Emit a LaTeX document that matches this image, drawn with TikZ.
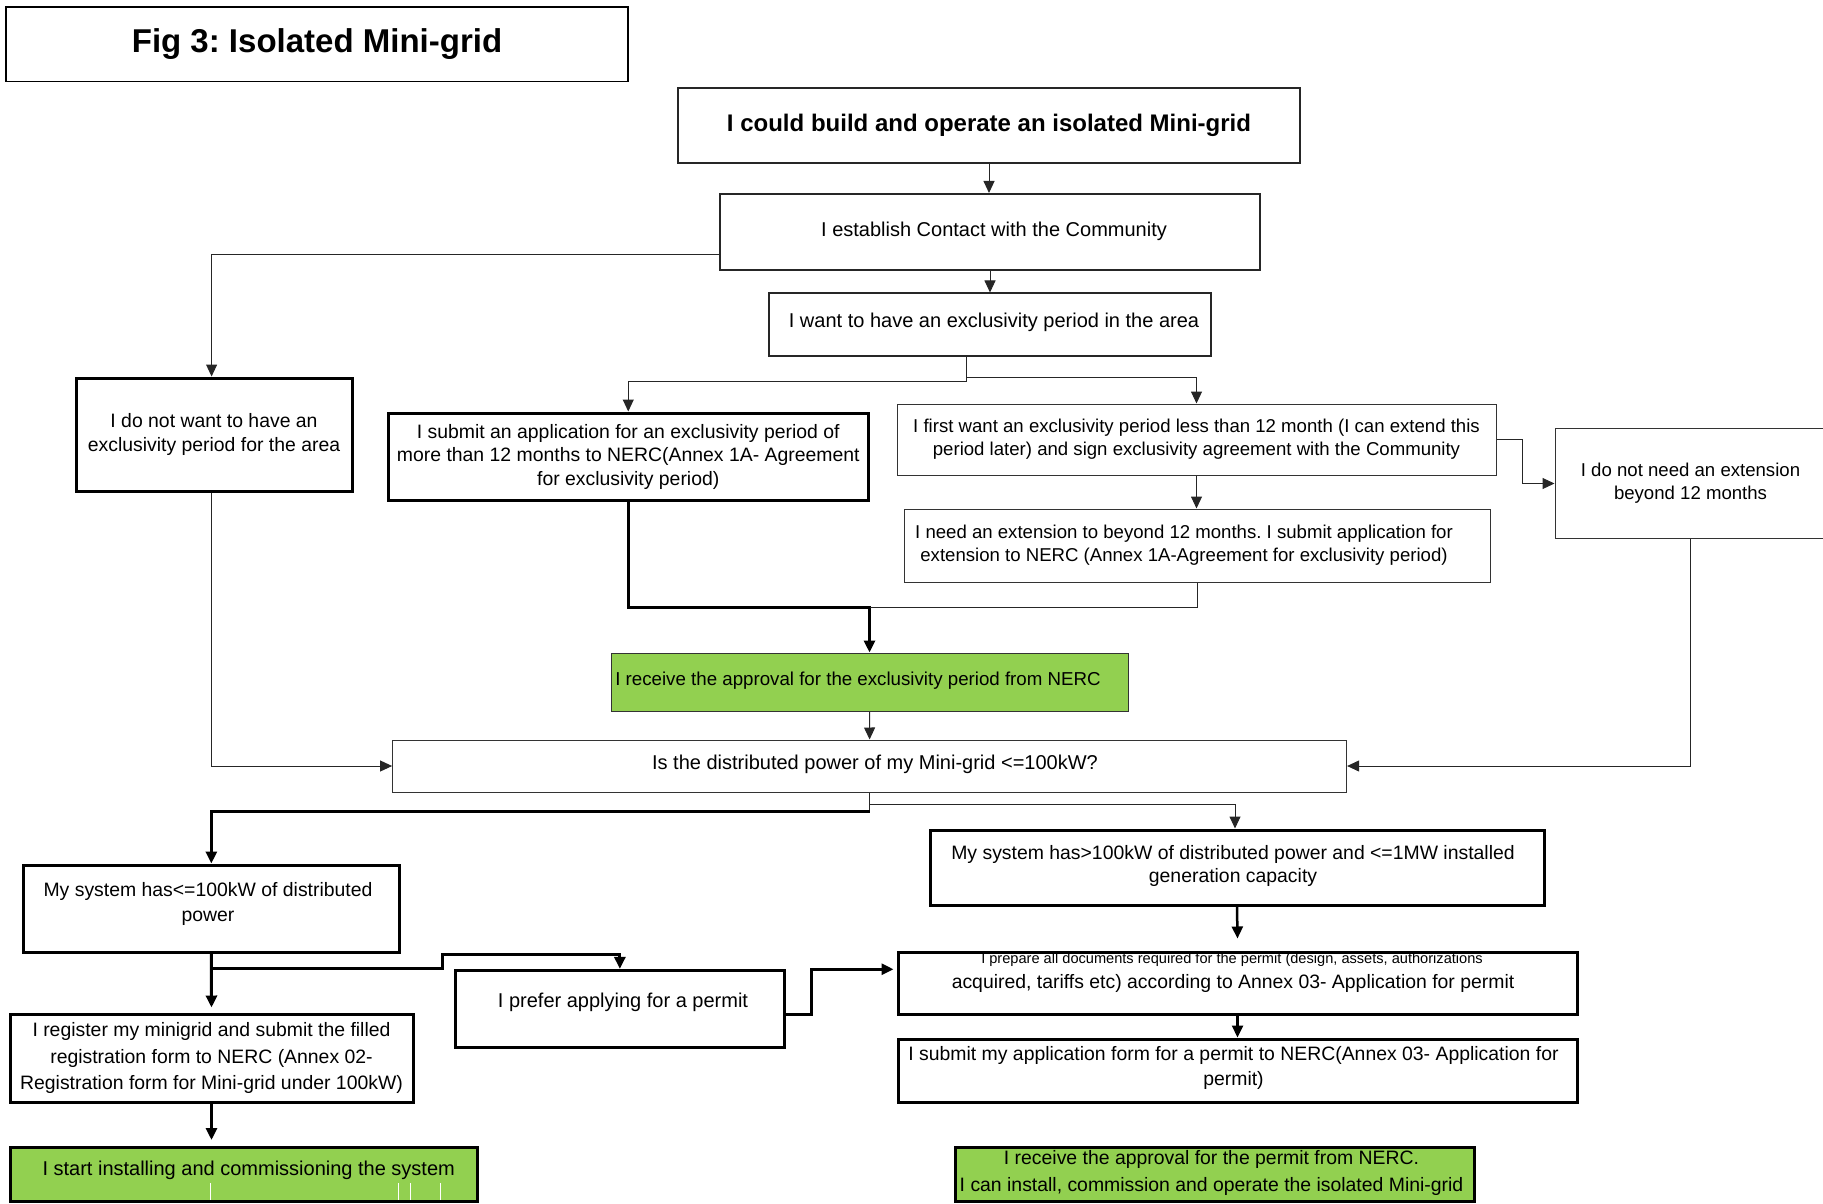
\documentclass[tikz,border=0pt]{standalone}
\usepackage{fontspec}
\setmainfont{Liberation Sans}
\usetikzlibrary{arrows.meta}
\definecolor{grn}{RGB}{146,208,80}
\begin{document}
\frenchspacing
\begin{tikzpicture}[x=0.5pt,y=-0.5pt,
  wh/.style 2 args={minimum width={#1*0.5pt},minimum height={#2*0.5pt}},
  box/.style={draw, rectangle, inner sep=0pt, align=center, font=\fontsize{9.7}{12}\selectfont},
  thickbox/.style={box, line width=1.5pt},
  thinbox/.style={box, line width=0.5pt, draw=black!80},
  midbox/.style={box, line width=1pt, draw=black!85},
  txt/.style={inner sep=0pt, align=center, font=\fontsize{9.7}{12}\selectfont},
  conn/.style={line width=0.5pt, draw=black!85},
  tconn/.style={line width=1.5pt},
  arr/.style={-{Triangle[length=6pt,width=5.5pt]}},
]
\useasboundingbox (0,0) rectangle (1823,1203);

% title
\node[box, line width=0.8pt, wh={622}{74.5}, font=\fontsize{16.5}{20}\selectfont\bfseries] (title) at (317,44.25) {Fig 3: Isolated Mini-grid};

% top chain
\node[midbox, wh={622}{75}, font=\fontsize{12}{14}\selectfont\bfseries] (top) at (989,125.5) {I could build and operate an isolated Mini-grid};
\node[midbox, wh={540}{76}] (establish) at (990,232) {};
\node[txt, font=\fontsize{10}{12}\selectfont] (establishT) at (994,231) {I establish Contact with the Community};
\node[midbox, wh={442}{62.5}] (want) at (990,324.75) {};
\node[txt, font=\fontsize{10}{12}\selectfont] (wantT) at (994,322.6) {I want to have an exclusivity period in the area};

% second row
\node[thickbox, wh={276}{113}] (donot) at (214,434.5) {I do not want to have an\\exclusivity period for the area};
\node[thickbox, wh={480.5}{87.5}, font=\fontsize{9.7}{11.7}\selectfont] (submitExcl) at (628.25,456.75) {I submit an application for an exclusivity period of\\more than 12 months to NERC(Annex 1A- Agreement\\for exclusivity period)};
\node[thinbox, wh={599}{71}, font=\fontsize{9.3}{11.5}\selectfont] (first) at (1196.5,439.5) {I first want an exclusivity period less than 12 month (I can extend this\\period later) and sign exclusivity agreement with the Community};
\node[thinbox, wh={271}{110}, font=\fontsize{9.3}{11.5}\selectfont] (noext) at (1690.5,483.5) {I do not need an extension\\beyond 12 months};
\node[thinbox, wh={586}{73.5}] (needext) at (1197,545.75) {};
\node[txt, font=\fontsize{9.3}{11.5}\selectfont] (needextT) at (1184,545) {I need an extension to beyond 12 months. I submit application for\\extension to NERC (Annex 1A-Agreement for exclusivity period)};

% approval and question
\node[thinbox, fill=grn, wh={517}{58.5}] (green1) at (869.5,682.25) {};
\node[txt, font=\fontsize{9.35}{12}\selectfont] (green1T) at (858,681) {I receive the approval for the exclusivity period from NERC};
\node[thinbox, wh={954}{52}] (question) at (869.6,766) {};
\node[txt, font=\fontsize{10}{12}\selectfont] (questionT) at (875,764.6) {Is the distributed power of my Mini-grid <=100kW?};

% lower left
\node[thickbox, wh={376.7}{87.7}] (le100) at (211.35,908.85) {};
\node[txt, font=\fontsize{9.7}{12.5}\selectfont] (le100T) at (208,903.5) {My system has<=100kW of distributed\\power};
\node[thickbox, wh={403}{88}, font=\fontsize{9.7}{13.2}\selectfont] (register) at (211.5,1058) {I register my minigrid and submit the filled\\registration form to NERC (Annex 02-\\Registration form for Mini-grid under 100kW)};
\node[thickbox, fill=grn, wh={467}{54}] (green3) at (243.5,1174) {};
\node[txt, font=\fontsize{10}{12}\selectfont] (green3T) at (248.7,1170) {I start installing and commissioning the system};
\node[thickbox, wh={328.7}{77}] (prefer) at (619.85,1008.85) {};
\node[txt, font=\fontsize{10}{12}\selectfont] (preferT) at (623,1002.7) {I prefer applying for a permit};

% lower right
\node[thickbox, wh={614}{75}] (gt100) at (1237,867.5) {};
\node[txt, font=\fontsize{9.7}{11.6}\selectfont] (gt100T) at (1233,866) {My system has>100kW of distributed power and <=1MW installed\\generation capacity};
\node[thickbox, wh={679}{62.5}] (prep) at (1237.5,983.25) {};
\node[txt, font=\fontsize{7.3}{8}\selectfont] (prepA) at (1232,959.6) {I prepare all documents required for the permit (design, assets, authorizations};
\node[txt] (prepB) at (1233,983.5) {acquired, tariffs etc) according to Annex 03- Application for permit};
\node[thickbox, wh={679}{63}] (submitPermit) at (1237.5,1070.5) {};
\node[txt, font=\fontsize{9.7}{12.9}\selectfont] (submitPermitT) at (1233.5,1068) {I submit my application form for a permit to NERC(Annex 03- Application for\\permit)};
\node[thickbox, fill=grn, wh={518.4}{54}] (green2) at (1214.8,1174) {};
\node[txt, font=\fontsize{9.7}{13.4}\selectfont] (green2T) at (1211.5,1173) {I receive the approval for the permit from NERC.\\I can install, commission and operate the isolated Mini-grid};

% white marks inside the green box
\foreach \wx in {210.6,398,410.7,440}
  \draw[white, line width=0.5pt] (\wx,1183) -- (\wx,1199.5);

% connectors
\draw[conn,arr] (top.south) -- (top.south |- establish.north);
\draw[conn,arr] (establish.south) -- (want.north);
\draw[conn,arr] ([yshift=-11.25pt]establish.west) -| ([xshift=-1.2pt]donot.north);
\draw[conn,arr] ([xshift=-12pt]want.south) -- ++(0,24) -| (submitExcl.north);
\draw[conn,arr] ([xshift=-12pt]want.south) -- ++(0,20) -| (first.north);
\draw[conn,arr] (first.east) -- ++(26,0) |- (noext.west);
\draw[conn,arr] (first.south) -- (first.south |- needext.north);
\draw[tconn,arr] (submitExcl.south) |- ([yshift=22.5pt]green1.north) -- (green1.north);
\draw[conn] (needext.south) |- ([yshift=22.5pt]green1.north);
\draw[conn,arr] (green1.south) -- (question.north);
\draw[conn,arr] ([xshift=-1.2pt]donot.south) |- (question.west);
\draw[conn,arr] (noext.south) |- (question.east);
\draw[conn,arr] (question.south) -- ++(0,12) -| ([xshift=-1pt]gt100.north);
\draw[conn] (question.south) -- ++(0,19);
\draw[tconn,arr] ([yshift=-9.5pt]question.south) -| (le100.north);
\draw[line width=1.25pt,arr] (gt100.south) -- ([yshift=6pt]prep.north);
\draw[line width=1.25pt,arr] (prep.south) -- (submitPermit.north);
\draw[tconn,arr] (le100.south) -- ([yshift=2.5pt]register.north);
\draw[tconn,arr] (le100.south) ++(0,14.6) -- ++(231.5,0) -- ++(0,-14.3) -| (prefer.north);
\draw[tconn,arr] ([yshift=-2.6pt]prefer.east) -- ++(26,0) |- ([xshift=-1.5pt,yshift=7pt]prep.west);
\draw[tconn,arr] (register.south) -- ++(0,36.5);
\end{tikzpicture}
\end{document}
